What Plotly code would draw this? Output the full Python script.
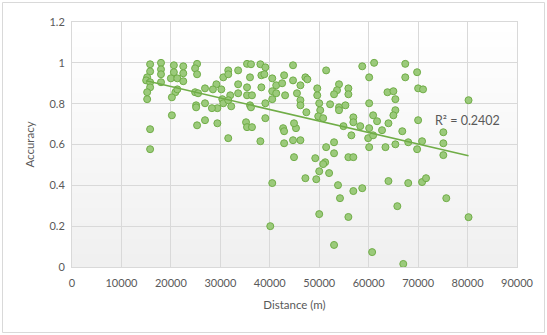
import base64, struct, zlib
import numpy as np
import plotly.graph_objects as go

distance = [
    15800, 18000, 20600, 22500, 25300, 15800, 18000, 18000, 20600, 22500, 24900, 15200, 15000, 15800,
    18000, 20000, 21300, 22500, 25300, 15800, 15200, 20900, 21300, 24900, 15200, 20200, 25100, 25100,
    20200, 25300, 15800, 15800, 25500,
    26900, 26900, 26900, 29200, 28500, 30200, 29400, 28300, 29400, 30600, 31600, 31600, 30400, 30600,
    32000, 31600, 32200, 33600, 33600, 33600, 31600, 35400, 36200, 36000, 35400, 35400, 36400, 36000,
    36200, 35200, 35400, 36400, 38100, 39100, 38300, 38900, 38300, 39100, 39100, 38100, 40500, 40500,
    40500, 41300, 41300, 42500, 42900, 43100, 44700, 44700, 45500, 46200, 46200, 46200, 47200, 47600,
    47400, 42700, 42900, 45300, 44900, 44700, 46200, 42900, 49600, 49600, 50000, 50200, 49800, 50800,
    51400, 51400, 49200, 44900,
    58700, 61100, 67400, 60100, 67400, 69800, 54000, 55900, 53600, 53000, 55900, 63800, 65000, 70000,
    71000, 65400, 52200, 54000, 55300, 54000, 60100, 65400, 65000, 60900, 56900, 56900, 61700, 64000,
    70000, 54900, 58300, 60100, 62700, 66800, 75100, 56500, 59900, 60900, 68000, 70800, 75100, 53000,
    60100, 63400, 65400, 69800, 53000, 55900, 56900, 75100,
    80200, 75700, 80200,
    51200, 50800, 50000, 52000, 47200, 49400, 40500, 50000, 40100, 53800, 56900, 58700, 54200, 64000,
    68000, 70800, 71600, 55900, 65800, 53000, 60700, 67000,
]
accuracy = [
    0.993, 1.0, 0.988, 0.983, 0.995, 0.958, 0.968, 0.944, 0.954, 0.949, 0.973, 0.929, 0.914, 0.905,
    0.905, 0.924, 0.924, 0.91, 0.944, 0.88, 0.856, 0.856, 0.87, 0.856, 0.822, 0.831, 0.792, 0.782,
    0.743, 0.694, 0.675, 0.577, 0.851,
    0.875, 0.802, 0.719, 0.895, 0.87, 0.87, 0.778, 0.778, 0.704, 0.929, 0.963, 0.944, 0.822, 0.802,
    0.841, 0.817, 0.787, 0.963, 0.895, 0.851, 0.631, 0.995, 0.993, 0.929, 0.88, 0.841, 0.841, 0.792,
    0.782, 0.709, 0.685, 0.685, 0.993, 0.978, 0.939, 0.944, 0.88, 0.802, 0.729, 0.616, 0.924, 0.861,
    0.822, 0.89, 0.851, 0.9, 0.939, 0.841, 0.988, 0.914, 0.851, 0.89, 0.817, 0.792, 0.929, 0.919,
    0.758, 0.68, 0.665, 0.68, 0.704, 0.621, 0.621, 0.606, 0.875, 0.841, 0.802, 0.768, 0.738, 0.729,
    0.963, 0.587, 0.533, 0.538,
    0.983, 1.0, 0.995, 0.929, 0.929, 0.954, 0.895, 0.875, 0.866, 0.846, 0.846, 0.856, 0.861, 0.875,
    0.87, 0.822, 0.797, 0.782, 0.792, 0.768, 0.802, 0.768, 0.743, 0.743, 0.733, 0.709, 0.714, 0.704,
    0.719, 0.69, 0.69, 0.68, 0.67, 0.665, 0.66, 0.645, 0.631, 0.645, 0.611, 0.616, 0.606, 0.611,
    0.587, 0.587, 0.601, 0.577, 0.557, 0.538, 0.538, 0.548,
    0.817, 0.337, 0.244,
    0.513, 0.504, 0.469, 0.46, 0.435, 0.43, 0.411, 0.259, 0.2, 0.401, 0.372, 0.386, 0.337, 0.421,
    0.411, 0.416, 0.435, 0.245, 0.298, 0.108, 0.073, 0.015,
]
x_ticks = [0, 10000, 20000, 30000, 40000, 50000, 60000, 70000, 80000, 90000]
x_tick_labels = ["0", "10000", "20000", "30000", "40000", "50000", "60000", "70000", "80000", "90000"]
y_ticks = [0, 0.2, 0.4, 0.6, 0.8, 1.0, 1.2]
y_tick_labels = ["0", "0.2", "0.4", "0.6", "0.8", "1", "1.2"]
r2_label = "R² = 0.2402"


def gradient_png(top, bottom, n=64):
    rows = b""
    for i in range(n):
        t = i / (n - 1)
        c = bytes(int(round(top[k] + (bottom[k] - top[k]) * t)) for k in range(3))
        rows += b"\x00" + c
    def chunk(tag, data):
        return struct.pack(">I", len(data)) + tag + data + struct.pack(">I", zlib.crc32(tag + data) & 0xffffffff)
    png = b"\x89PNG\r\n\x1a\n" + chunk(b"IHDR", struct.pack(">IIBBBBB", 1, n, 8, 2, 0, 0, 0))
    png += chunk(b"IDAT", zlib.compress(rows)) + chunk(b"IEND", b"")
    return "data:image/png;base64," + base64.b64encode(png).decode()


xs = np.array(distance, dtype=float)
ys = np.array(accuracy, dtype=float)
slope, intercept = np.polyfit(xs, ys, 1)
xl = np.array([xs.min(), xs.max()])
yl = slope * xl + intercept

green = "#70AD47"
fig = go.Figure()
fig.add_trace(go.Scatter(
    x=distance, y=accuracy, mode="markers",
    marker=dict(size=7, color="#9BCA7B", line=dict(color=green, width=1)),
    showlegend=False, hoverinfo="x+y",
))
fig.add_trace(go.Scatter(
    x=xl, y=yl, mode="lines", line=dict(color=green, width=1.5),
    showlegend=False, hoverinfo="skip",
))

W, H = 547, 335
L, R, T, B = 72, 30, 22, 68
pw, ph = W - L - R, H - T - B

fig.add_annotation(x=80000, y=0.72, text=r2_label, showarrow=False,
                   font=dict(family="Lato, sans-serif", size=12.5, color="#595959"),
                   xanchor="center", yanchor="middle")

fig.add_layout_image(dict(source=gradient_png((255, 255, 255), (240, 240, 240)),
                          xref="paper", yref="paper", x=0, y=1, sizex=1, sizey=1,
                          sizing="stretch", layer="below", xanchor="left", yanchor="top"))

fig.add_shape(type="rect", xref="paper", yref="paper",
              x0=(2.5 - L) / pw, x1=(W - 2.5 - L) / pw,
              y0=(H - B - (H - 2.5)) / ph, y1=(H - B - 2.5) / ph,
              line=dict(color="#D9D9D9", width=1), fillcolor="rgba(0,0,0,0)", layer="below")

axis_font = dict(family="Lato, sans-serif", size=11, color="#595959")
title_font = dict(family="Lato, sans-serif", size=11.5, color="#595959")
fig.update_layout(
    width=W, height=H,
    margin=dict(l=L, r=R, t=T, b=B),
    paper_bgcolor="white", plot_bgcolor="rgba(0,0,0,0)",
    font=axis_font,
    xaxis=dict(range=[0, 90000], tickmode="array", tickvals=x_ticks, ticktext=x_tick_labels,
               showgrid=True, gridcolor="#D9D9D9", gridwidth=1, zeroline=False,
               showline=True, linecolor="#D9D9D9", mirror=True,
               ticks="outside", ticklen=6, tickcolor="rgba(0,0,0,0)",
               tickfont=axis_font,
               title=dict(text="Distance (m)", font=title_font, standoff=12)),
    yaxis=dict(range=[0, 1.2], tickmode="array", tickvals=y_ticks, ticktext=y_tick_labels,
               showgrid=True, gridcolor="#D9D9D9", gridwidth=1, zeroline=False,
               showline=True, linecolor="#D9D9D9", mirror=True,
               ticks="outside", ticklen=4, tickcolor="rgba(0,0,0,0)",
               tickfont=axis_font,
               title=dict(text="Accuracy", font=title_font, standoff=12)),
)

fig.write_html("out.html", config={"displayModeBar": False},
               post_script="document.body.style.margin='0';document.body.style.padding='0';")
